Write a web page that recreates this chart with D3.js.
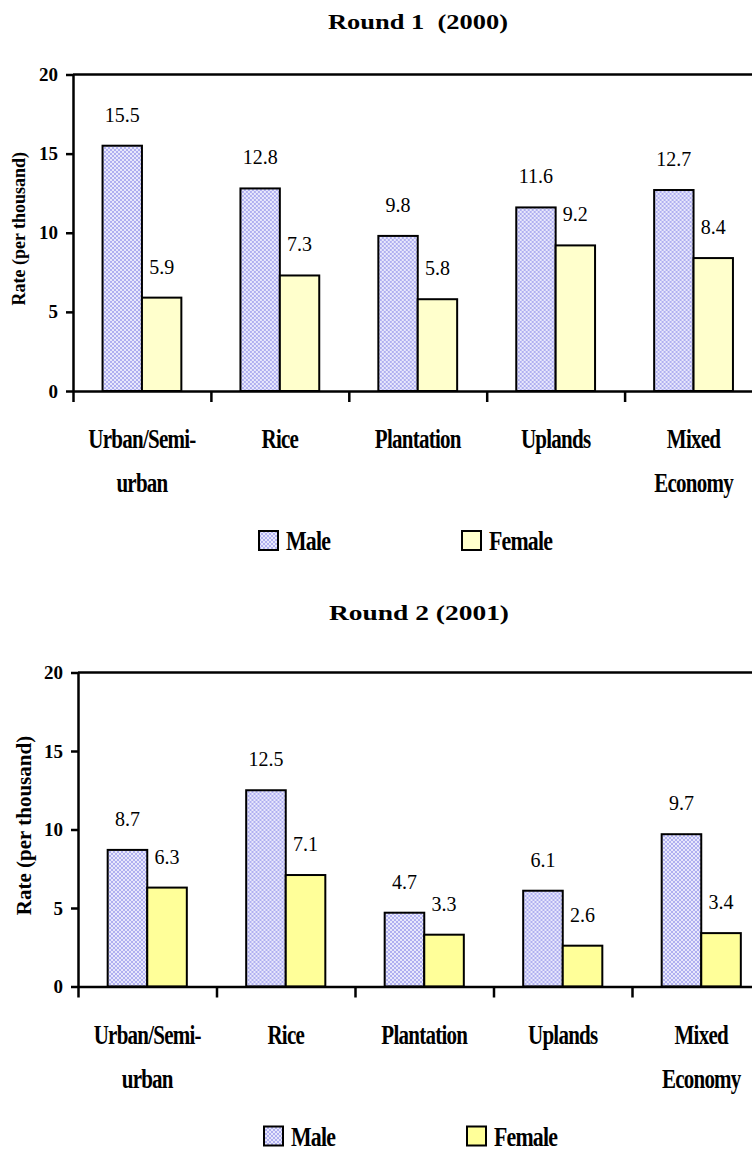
<!DOCTYPE html>
<html>
<head>
<meta charset="utf-8">
<script src="https://cdn.jsdelivr.net/npm/d3@7"></script>
<style>
  html, body { margin: 0; padding: 0; background: #fff; }
  svg { display: block; }
</style>
</head>
<body>
<svg id="chart" width="752" height="1152"></svg>
<script>
// Mortality rates by ecological zone and sex (per thousand)
const categories = ["Urban/Semi-urban", "Rice", "Plantation", "Uplands", "Mixed Economy"];
const categoryLines = [["Urban/Semi-", "urban"], ["Rice"], ["Plantation"], ["Uplands"], ["Mixed", "Economy"]];
const seriesNames = ["Male", "Female"];

const male2000 = [15.5, 12.8, 9.8, 11.6, 12.7];
const female2000 = [5.9, 7.3, 5.8, 9.2, 8.4];
const male2001 = [8.7, 12.5, 4.7, 6.1, 9.7];
const female2001 = [6.3, 7.1, 3.3, 2.6, 3.4];

const yTicks = [0, 5, 10, 15, 20];
const titles = ["Round 1  (2000)", "Round 2 (2001)"];
const yAxisTitle = "Rate (per thousand)";

const SERIF = '"Liberation Serif"';

const svg = d3.select("#chart");

// Male bars use a fine lavender lattice fill
const defs = svg.append("defs");
const pat = defs.append("pattern")
  .attr("id", "maleFill")
  .attr("patternUnits", "userSpaceOnUse")
  .attr("width", 4).attr("height", 4);
pat.append("rect").attr("width", 4).attr("height", 4).attr("fill", "#e8e8fc");
pat.append("path").attr("d", "M0,0L4,4M4,0L0,4")
  .attr("stroke", "#a9a9ee").attr("stroke-width", 0.9);

function label(sel) {
  return sel.style("font-family", SERIF).attr("fill", "#000");
}

function drawChart(opt) {
  const { title, male, female, femaleColor, left, right, top, zero, titleX, titleY, yTitleX, yTitleSize } = opt;
  const g = svg.append("g");

  const y = d3.scaleLinear().domain([0, 20]).range([zero, top]);
  const x = d3.scaleBand().domain(categories).range([left, right]).padding(0);
  const xs = d3.scaleBand().domain(seriesNames).range([0, x.bandwidth()])
    .paddingInner(0).paddingOuter(0.75);
  const edges = d3.scaleLinear().domain([0, categories.length]).range([left, right]);

  // Title
  label(g.append("text"))
    .attr("x", titleX).attr("y", titleY)
    .attr("text-anchor", "middle")
    .attr("font-size", 22).attr("font-weight", "bold")
    .attr("textLength", 180).attr("lengthAdjust", "spacingAndGlyphs")
    .style("white-space", "pre")
    .text(title);

  // Top frame line
  g.append("line")
    .attr("x1", left).attr("x2", right)
    .attr("y1", top).attr("y2", top)
    .attr("stroke", "#000").attr("stroke-width", 2.5);

  // Bars
  const rows = categories.map((c, i) => ({ cat: c, values: [male[i], female[i]] }));
  const groups = g.selectAll("g.cat").data(rows).join("g")
    .attr("class", "cat")
    .attr("transform", d => `translate(${x(d.cat)},0)`);

  groups.selectAll("rect").data(d => d.values.map((v, k) => ({ s: seriesNames[k], v })))
    .join("rect")
    .attr("x", d => xs(d.s))
    .attr("y", d => y(d.v))
    .attr("width", xs.bandwidth())
    .attr("height", d => y(0) - y(d.v))
    .attr("fill", d => d.s === "Male" ? "url(#maleFill)" : femaleColor)
    .attr("stroke", "#000").attr("stroke-width", 2);

  label(groups.selectAll("text.val").data(d => d.values.map((v, k) => ({ s: seriesNames[k], v })))
    .join("text"))
    .attr("class", "val")
    .attr("x", d => xs(d.s) + xs.bandwidth() / 2)
    .attr("y", d => y(d.v) - 24)
    .attr("text-anchor", "middle")
    .attr("font-size", 20)
    .text(d => d.v.toFixed(1));

  // Y axis
  const yAxis = g.append("g")
    .attr("transform", `translate(${left},0)`)
    .call(d3.axisLeft(y).tickValues(yTicks).tickSize(7).tickSizeOuter(0).tickPadding(8));
  yAxis.attr("font-family", null);
  yAxis.select(".domain").attr("stroke-width", 2.5);
  yAxis.selectAll(".tick line").attr("stroke-width", 2.5);
  label(yAxis.selectAll(".tick text"))
    .attr("font-size", 19).attr("font-weight", "bold");

  // X axis with ticks at category boundaries
  const xAxis = g.append("g")
    .attr("transform", `translate(0,${zero})`)
    .call(d3.axisBottom(edges).tickValues(d3.range(categories.length + 1))
      .tickSize(11).tickSizeOuter(0).tickFormat(""));
  xAxis.select(".domain").attr("stroke-width", 2.5);
  xAxis.selectAll(".tick line").attr("stroke-width", 2.5);

  // Category labels (condensed bold)
  categories.forEach((c, i) => {
    const cx = x(c) + x.bandwidth() / 2;
    categoryLines[i].forEach((line, j) => {
      label(g.append("text"))
        .attr("transform", `translate(${cx},${zero + 57 + j * 44}) scale(0.75,1)`)
        .attr("text-anchor", "middle")
        .attr("font-size", 28).attr("font-weight", "bold")
        .attr("letter-spacing", -1)
        .text(line);
    });
  });

  // Y-axis title
  label(g.append("text"))
    .attr("transform", `translate(${yTitleX},${(top + zero) / 2 - 4}) rotate(-90)`)
    .attr("text-anchor", "middle")
    .attr("font-size", yTitleSize).attr("font-weight", "bold")
    .text(yAxisTitle);

  // Legend
  const legendX = [left + 186, left + 389];
  seriesNames.forEach((s, k) => {
    const lx = legendX[k];
    const ly = zero + 140;
    g.append("rect")
      .attr("x", lx).attr("y", ly).attr("width", 19).attr("height", 19)
      .attr("fill", s === "Male" ? "url(#maleFill)" : femaleColor)
      .attr("stroke", "#000").attr("stroke-width", 2);
    label(g.append("text"))
      .attr("transform", `translate(${lx + 27},${ly + 19}) scale(0.78,1)`)
      .attr("font-size", 28).attr("font-weight", "bold")
      .attr("letter-spacing", -1)
      .text(s);
  });
}

drawChart({
  title: titles[0], male: male2000, female: female2000, femaleColor: "#ffffcc",
  left: 73, right: 762.5, top: 74.5, zero: 391,
  titleX: 418, titleY: 29, yTitleX: 25, yTitleSize: 18
});

drawChart({
  title: titles[1], male: male2001, female: female2001, femaleColor: "#ffff99",
  left: 78, right: 770.5, top: 672.5, zero: 986.5,
  titleX: 419, titleY: 620, yTitleX: 31, yTitleSize: 21
});
</script>
</body>
</html>
